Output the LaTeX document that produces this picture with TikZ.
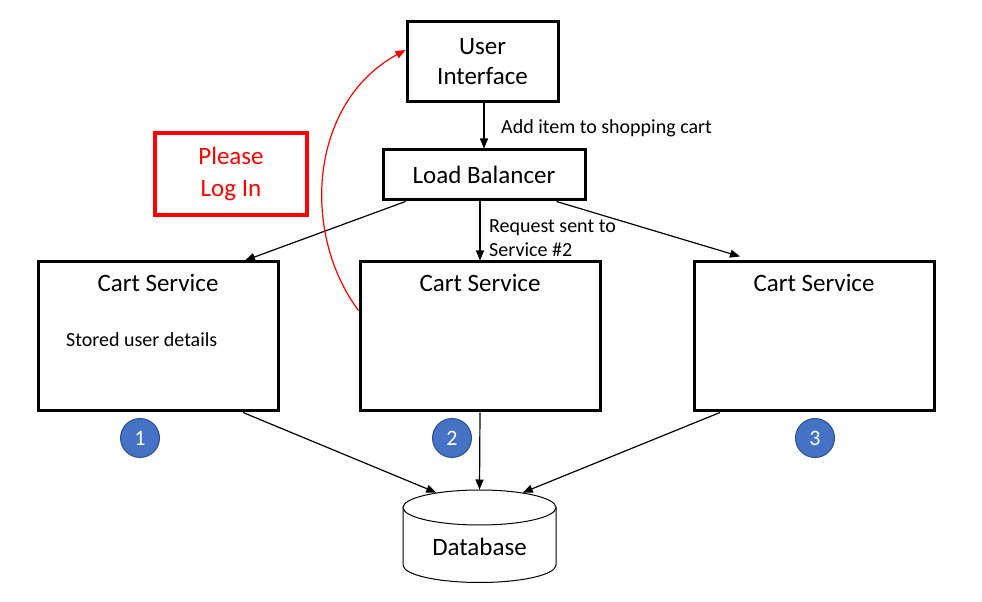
\documentclass[tikz,border=0pt]{standalone}
\usepackage{fontspec}
\setmainfont{Carlito}
\usetikzlibrary{arrows.meta,positioning,shapes.geometric}
\definecolor{loginred}{RGB}{255,0,0}
\definecolor{badgeblue}{RGB}{68,114,196}
\definecolor{badgeline}{RGB}{47,82,143}
\begin{document}
\begin{tikzpicture}[x=1pt,y=1pt,
  box/.style={draw=black,line width=3pt,fill=white,inner sep=0pt},
  bigtext/.style={font=\fontsize{25}{30}\selectfont,align=center},
  smalltext/.style={font=\fontsize{20}{24}\selectfont,align=left,inner sep=2pt},
  link/.style={-{Triangle[length=10pt,width=8pt]},line width=1.2pt},
  badge/.style={circle,fill=badgeblue,draw=badgeline,line width=1pt,minimum size=39pt,inner sep=0pt,text=white,font=\fontsize{22}{22}\selectfont}]
\useasboundingbox (0,0) rectangle (982,602);
% Drawing boxes
\node[box,bigtext,minimum width=151pt,minimum height=80pt] (ui) at (482.5,540) {User\\Interface};
\node[box,bigtext,minimum width=202pt,minimum height=50pt] (lb) at (484,427) {Load Balancer};
\node[box,bigtext,draw=loginred,text=loginred,line width=3.5pt,minimum width=152pt,minimum height=82pt,font=\fontsize{25}{32}\selectfont] (login) at (231,428) {Please\\Log In};
\node[box,minimum width=240pt,minimum height=149pt] (cart1) at (158,265.5) {};
\node[box,minimum width=240pt,minimum height=149pt] (cart2) at (480,265.5) {};
\node[box,minimum width=240pt,minimum height=149pt] (cart3) at (814,265.5) {};
\node[bigtext] (title1) at ([yshift=-22pt]cart1.north) {Cart Service};
\node[bigtext] (title2) at ([yshift=-22pt]cart2.north) {Cart Service};
\node[bigtext] (title3) at ([yshift=-22pt]cart3.north) {Cart Service};
\node[smalltext,anchor=west] (stored) at (64,262) {Stored user details};
% Done with boxes; drawing badges
\node[badge] (badge1) at (140,164) {1};
\node[badge] (badge2) at (452,164) {2};
\node[badge] (badge3) at (815,164) {3};
% Drawing the database
\draw[line width=1pt,fill=white] (403,94.5) -- (403,37) arc[start angle=180,end angle=360,x radius=76.5,y radius=17.5] -- (556,94.5);
\node[ellipse,draw,line width=1pt,fill=white,minimum width=153pt,minimum height=35pt,inner sep=0pt] (dbtop) at (479.5,94.5) {};
\node[bigtext] (dbtext) at (479.5,55) {Database};
% Drawing connectors
\draw[link] (lb.north |- ui.south) -- (lb.north);
\node[smalltext,anchor=west] (addlabel) at (499,474) {Add item to shopping cart};
\draw[link] ([xshift=24pt]lb.south west) -- ([xshift=87pt]cart1.north);
\draw[link] (lb.south -| cart2.north) -- (cart2.north);
\node[smalltext,anchor=west] (reqlabel) at (487,364) {Request sent to\\Service \#2};
\draw[link] ([xshift=-30pt]lb.south east) -- ([xshift=-74pt,yshift=4pt]cart3.north);
\draw[link] ([xshift=85pt]cart1.south) -- (dbtop.161);
\draw[link] (cart2.south) -- (dbtop.north);
\draw[link] ([xshift=-94pt]cart3.south) -- (dbtop.19);
% Red redirect back to the user interface
\draw[link,draw=loginred] ([yshift=26pt]cart2.west) .. controls (300,370) and (310,500) .. ([yshift=12pt]ui.west);
\end{tikzpicture}
\end{document}
